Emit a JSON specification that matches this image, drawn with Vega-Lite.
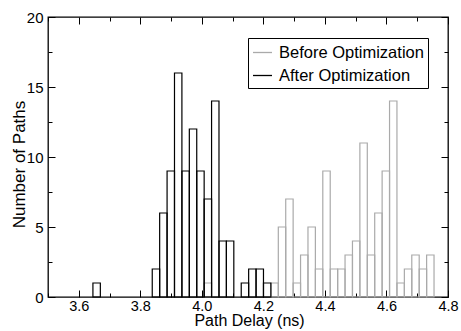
{
  "$schema": "https://vega.github.io/schema/vega-lite/v6.json",
  "width": 400,
  "height": 280,
  "autosize": {"type": "none"},
  "padding": {"left": 48, "top": 17, "right": 13, "bottom": 34},
  "config": {
    "font": "Liberation Sans",
    "view": {"stroke": "black", "strokeWidth": 1.3},
    "axis": {"grid": false, "domain": false, "tickColor": "black", "tickWidth": 1, "labelColor": "black", "titleColor": "black", "labelFont": "Liberation Sans", "titleFont": "Liberation Sans", "titleFontWeight": "normal", "labelFlush": false, "labelOverlap": false}
  },
  "data": {
    "values": [
      {"series": "Before Optimization", "start": 4.0075, "end": 4.0316, "count": 1},
      {"series": "Before Optimization", "start": 4.2244, "end": 4.2485, "count": 1},
      {"series": "Before Optimization", "start": 4.2485, "end": 4.2726, "count": 5},
      {"series": "Before Optimization", "start": 4.2726, "end": 4.2967, "count": 7},
      {"series": "Before Optimization", "start": 4.2967, "end": 4.3208, "count": 1},
      {"series": "Before Optimization", "start": 4.3208, "end": 4.3449, "count": 3},
      {"series": "Before Optimization", "start": 4.3449, "end": 4.369, "count": 5},
      {"series": "Before Optimization", "start": 4.369, "end": 4.3931, "count": 2},
      {"series": "Before Optimization", "start": 4.3931, "end": 4.4172, "count": 9},
      {"series": "Before Optimization", "start": 4.4172, "end": 4.4413, "count": 2},
      {"series": "Before Optimization", "start": 4.4413, "end": 4.4654, "count": 2},
      {"series": "Before Optimization", "start": 4.4654, "end": 4.4895, "count": 3},
      {"series": "Before Optimization", "start": 4.4895, "end": 4.5136, "count": 4},
      {"series": "Before Optimization", "start": 4.5136, "end": 4.5377, "count": 11},
      {"series": "Before Optimization", "start": 4.5377, "end": 4.5618, "count": 3},
      {"series": "Before Optimization", "start": 4.5618, "end": 4.5859, "count": 6},
      {"series": "Before Optimization", "start": 4.5859, "end": 4.61, "count": 9},
      {"series": "Before Optimization", "start": 4.61, "end": 4.6341, "count": 14},
      {"series": "Before Optimization", "start": 4.6341, "end": 4.6582, "count": 1},
      {"series": "Before Optimization", "start": 4.6582, "end": 4.6823, "count": 2},
      {"series": "Before Optimization", "start": 4.6823, "end": 4.7064, "count": 3},
      {"series": "Before Optimization", "start": 4.7064, "end": 4.7305, "count": 2},
      {"series": "Before Optimization", "start": 4.7305, "end": 4.7546, "count": 3},
      {"series": "After Optimization", "start": 3.646, "end": 3.6701, "count": 1},
      {"series": "After Optimization", "start": 3.8388, "end": 3.8629, "count": 2},
      {"series": "After Optimization", "start": 3.8629, "end": 3.887, "count": 6},
      {"series": "After Optimization", "start": 3.887, "end": 3.9111, "count": 9},
      {"series": "After Optimization", "start": 3.9111, "end": 3.9352, "count": 16},
      {"series": "After Optimization", "start": 3.9352, "end": 3.9593, "count": 9},
      {"series": "After Optimization", "start": 3.9593, "end": 3.9834, "count": 12},
      {"series": "After Optimization", "start": 3.9834, "end": 4.0075, "count": 9},
      {"series": "After Optimization", "start": 4.0075, "end": 4.0316, "count": 7},
      {"series": "After Optimization", "start": 4.0316, "end": 4.0557, "count": 14},
      {"series": "After Optimization", "start": 4.0557, "end": 4.0798, "count": 4},
      {"series": "After Optimization", "start": 4.0798, "end": 4.1039, "count": 4},
      {"series": "After Optimization", "start": 4.128, "end": 4.1521, "count": 1},
      {"series": "After Optimization", "start": 4.1521, "end": 4.1762, "count": 2},
      {"series": "After Optimization", "start": 4.1762, "end": 4.2003, "count": 2},
      {"series": "After Optimization", "start": 4.2003, "end": 4.2244, "count": 1}
    ]
  },
  "layer": [
    {
      "mark": {"type": "rect", "filled": false, "strokeWidth": 1.2},
      "encoding": {
        "x": {
          "field": "start", "type": "quantitative",
          "scale": {"domain": [3.5, 4.8], "nice": false, "zero": false},
          "axis": {
            "orient": "bottom",
            "values": [3.5, 3.6, 3.7, 3.8, 3.9, 4.0, 4.1, 4.2, 4.3, 4.4, 4.5, 4.6, 4.7, 4.8],
            "labelExpr": "(round(datum.value*10) % 2 == 0 && datum.value > 3.55) ? format(datum.value, '.1f') : ''",
            "tickSize": {"condition": {"test": "round(datum.value*10) % 2 == 0", "value": -7}, "value": -4},
            "labelFontSize": 14.5,
            "labelBaseline": "alphabetic",
            "labelPadding": 20,
            "title": "Path Delay (ns)",
            "titleFontSize": 16,
            "titleBaseline": "alphabetic",
            "titleY": 28.5,
            "titleX": 201
          }
        },
        "x2": {"field": "end"},
        "y": {
          "field": "count", "type": "quantitative",
          "scale": {"domain": [0, 20], "nice": false},
          "axis": {
            "orient": "left",
            "values": [0, 2.5, 5, 7.5, 10, 12.5, 15, 17.5, 20],
            "labelExpr": "datum.value % 5 == 0 ? format(datum.value, 'd') : ''",
            "tickSize": {"condition": {"test": "datum.value % 5 == 0", "value": -7}, "value": -4},
            "labelFontSize": 15,
            "labelPadding": 12,
            "title": "Number of Paths",
            "titleFontSize": 17,
            "titleBaseline": "alphabetic",
            "titleX": -24,
            "titleY": 147
          }
        },
        "y2": {"datum": 0},
        "stroke": {
          "field": "series", "type": "nominal",
          "scale": {"domain": ["Before Optimization", "After Optimization"], "range": ["#aaaaaa", "#000000"]},
          "legend": {
            "orient": "none", "legendX": 200, "legendY": 21, "title": null,
            "strokeColor": "black", "fillColor": "white", "padding": 4,
            "symbolType": "stroke", "symbolSize": 361, "symbolStrokeWidth": 1.3,
            "labelFontSize": 16.5, "labelFont": "Liberation Sans", "labelColor": "black",
            "labelOffset": 6, "rowPadding": 4
          }
        }
      }
    },
    {
      "mark": {"type": "rect", "filled": false, "strokeOpacity": 0},
      "encoding": {
        "x": {
          "field": "start", "type": "quantitative",
          "axis": {
            "orient": "top",
            "values": [3.5, 3.6, 3.7, 3.8, 3.9, 4.0, 4.1, 4.2, 4.3, 4.4, 4.5, 4.6, 4.7, 4.8],
            "labels": false, "title": null,
            "tickSize": {"condition": {"test": "round(datum.value*10) % 2 == 0", "value": -7}, "value": -4}
          }
        },
        "x2": {"field": "end"},
        "y": {
          "field": "count", "type": "quantitative",
          "axis": {
            "orient": "right",
            "values": [0, 2.5, 5, 7.5, 10, 12.5, 15, 17.5, 20],
            "labels": false, "title": null,
            "tickSize": {"condition": {"test": "datum.value % 5 == 0", "value": -7}, "value": -4}
          }
        },
        "y2": {"datum": 0}
      }
    }
  ]
}
